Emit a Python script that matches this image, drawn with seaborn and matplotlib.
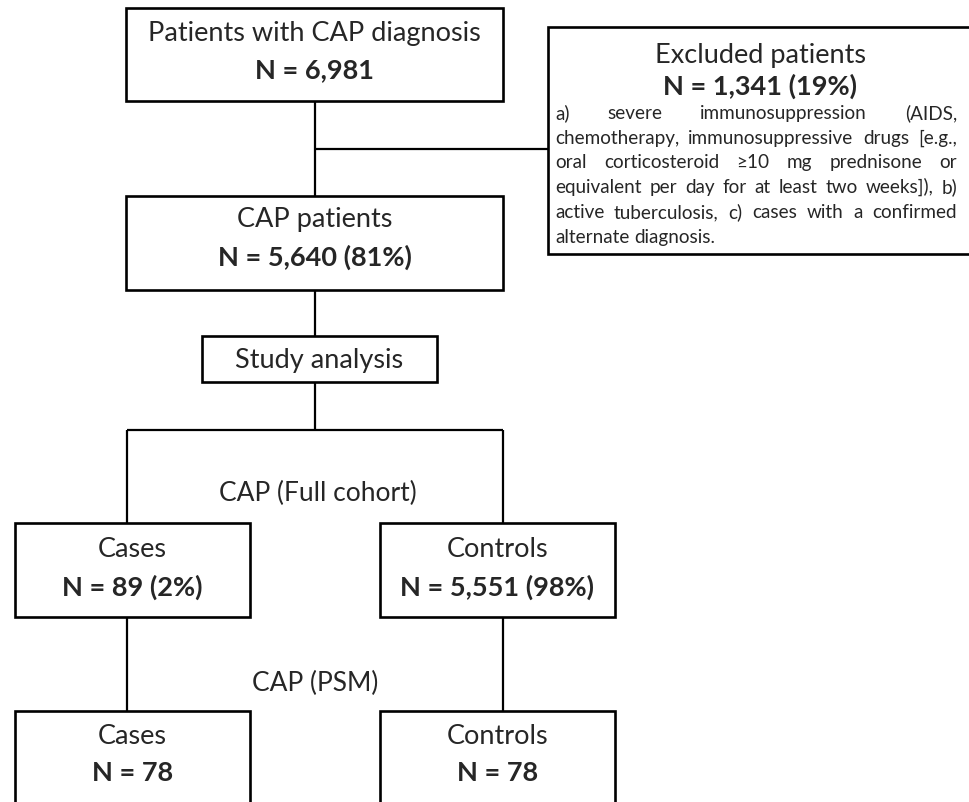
import matplotlib
matplotlib.use("Agg")
import matplotlib.pyplot as plt
from matplotlib.patches import Rectangle
import seaborn as sns

# box texts
box_titles = ["Patients with CAP diagnosis", "CAP patients", "Excluded patients",
              "Study analysis", "Cases", "Controls", "Cases", "Controls"]
box_counts = ["N = 6,981", "N = 5,640 (81%)", "N = 1,341 (19%)",
              "", "N = 89 (2%)", "N = 5,551 (98%)", "N = 78", "N = 78"]
branch_labels = ["CAP (Full cohort)", "CAP (PSM)"]
excluded_lines = [
    "a) severe immunosuppression (AIDS,",
    "chemotherapy, immunosuppressive drugs [e.g.,",
    "oral corticosteroid \u226510 mg prednisone or",
    "equivalent per day for at least two weeks]), b)",
    "active tuberculosis, c) cases with a confirmed",
    "alternate diagnosis.",
]

# layout in pixels: x0, x1, y0, y1, title y, count y
boxes = [
    (126, 503, 9, 102, 33, 70),
    (126, 503, 197, 291, 220, 257),
    (548, 973, 28, 255, 55, 86),
    (202, 437, 337, 383, 361, None),
    (15, 250, 524, 618, 550, 587),
    (380, 615, 524, 618, 550, 587),
    (15, 250, 712, 840, 737, 773),
    (380, 615, 712, 840, 737, 773),
]
connectors = [
    ([315, 315], [102, 197]),
    ([315, 548], [150, 150]),
    ([315, 315], [291, 337]),
    ([315, 315], [383, 431]),
    ([127, 503], [431, 431]),
    ([127, 127], [431, 524]),
    ([503, 503], [431, 524]),
    ([127, 127], [618, 712]),
    ([503, 503], [618, 712]),
]
branch_pos = [(318, 493), (315, 683)]

sns.set_theme(style="white")
plt.rcParams["font.family"] = ["Lato", "DejaVu Sans"]

fig = plt.figure(figsize=(9.7, 8.03), dpi=100)
ax = fig.add_axes([0, 0, 1, 1])
ax.set_xlim(0, 970)
ax.set_ylim(803, 0)
ax.axis("off")

for xs, ys in connectors:
    ax.plot(xs, ys, color="black", lw=1.6, solid_capstyle="butt")

for (x0, x1, y0, y1, ty, cy), title, count in zip(boxes, box_titles, box_counts):
    ax.add_patch(Rectangle((x0, y0), x1 - x0, y1 - y0, facecolor="white",
                           edgecolor="black", lw=1.9, zorder=2))
    ax.text((x0 + x1) / 2, ty, title, ha="center", va="center", fontsize=19.5, zorder=3)
    if count:
        ax.text((x0 + x1) / 2, cy, count, ha="center", va="center", fontsize=19.5,
                fontweight="bold", zorder=3)

for lab, (x, y) in zip(branch_labels, branch_pos):
    ax.text(x, y, lab, ha="center", va="center", fontsize=19)

# justified paragraph in the excluded box
body_fs = 13.6
fig.canvas.draw()
renderer = fig.canvas.get_renderer()
tx0, tx1 = 555, 957
line_y = [113, 138, 162, 187, 212, 237]
probe = ax.text(0, 0, "a a", fontsize=body_fs)
probe2 = ax.text(0, 0, "aa", fontsize=body_fs)
space = probe.get_window_extent(renderer).width - probe2.get_window_extent(renderer).width
probe.remove()
probe2.remove()
for i, (line, y) in enumerate(zip(excluded_lines, line_y)):
    words = line.split(" ")
    texts = [ax.text(tx0, y + 6, w, ha="left", va="baseline", fontsize=body_fs, zorder=3)
             for w in words]
    widths = [t.get_window_extent(renderer).width for t in texts]
    if i == len(excluded_lines) - 1 or len(words) == 1:
        gap = space
    else:
        gap = max(space, (tx1 - tx0 - sum(widths)) / (len(words) - 1))
    x = tx0
    for t, w in zip(texts, widths):
        t.set_x(x)
        x += w + gap

fig.savefig("out.png", dpi=100)
